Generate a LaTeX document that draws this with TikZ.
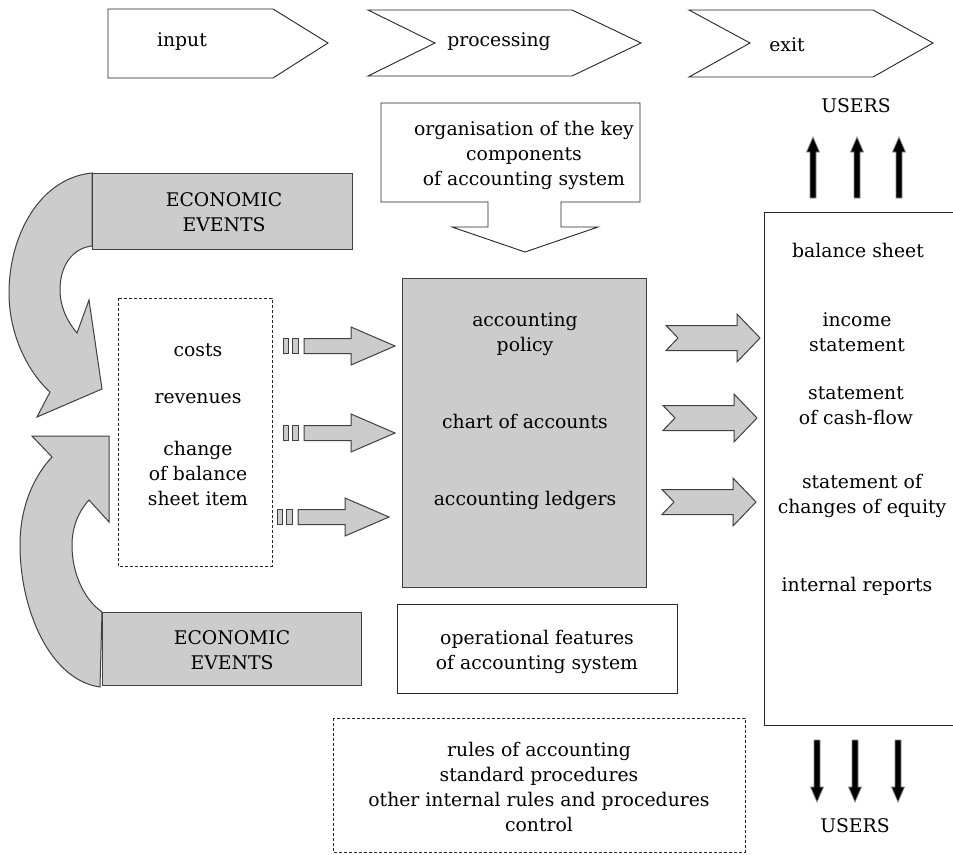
\documentclass[tikz,border=0pt]{standalone}
\usepackage{fontspec}
\setmainfont{DejaVu Serif}
\tikzset{
  ln/.style={draw=black!85, line width=0.9pt},
  graybox/.style={fill=black!20, draw=black!75, line width=1pt},
  txt/.style={align=center, font=\fontsize{18.8}{25}\selectfont, inner sep=0pt, text=black},
  uparrow/.pic={\filldraw[fill=black, draw=black!45, line width=0.7pt] (-3,0) -- (-3,-46) -- (-6.5,-46) -- (0,-61) -- (6.5,-46) -- (3,-46) -- (3,0) -- cycle;},
  downarrow/.pic={\filldraw[fill=black, draw=black!45, line width=0.7pt] (-3,0) -- (-3,47) -- (-6.5,47) -- (0,62) -- (6.5,47) -- (3,47) -- (3,0) -- cycle;},
  stripearr/.pic={
    \filldraw[graybox] (0,-7.5) rectangle (5,7.5);
    \filldraw[graybox] (9,-7.5) rectangle (15,7.5);
    \filldraw[graybox] (21,-7.5) -- (68,-7.5) -- (68,-19) -- (112,0) -- (68,19) -- (68,7.5) -- (21,7.5) -- cycle;},
  notcharr/.pic={
    \filldraw[graybox] (0,-12.5) -- (71,-12.5) -- (71,-24) -- (94,0) -- (71,24) -- (71,12.5) -- (0,12.5) -- (12,0) -- cycle;}
}
\begin{document}
\begin{tikzpicture}[x=1pt,y=-1pt]
\useasboundingbox (0,0) rectangle (953,854);
\fill[white] (0,0) rectangle (953,854);

% ---- top chevrons
\draw[ln] (108,9) -- (273,9) -- (328,43) -- (273,78) -- (108,78) -- cycle;
\node[txt] (input) at (182,42) {input};
\draw[ln] (368,10) -- (572,10) -- (641,43) -- (572,76) -- (368,76) -- (435,43) -- cycle;
\node[txt] (processing) at (499,42) {processing};
\draw[ln] (689,10) -- (873,10) -- (933,43) -- (873,77) -- (689,77) -- (750,43) -- cycle;
\node[txt] (exit) at (787,45) {exit};

% ---- users
\node[txt] (usersTop) at (856,106) {USERS};
\pic at (813,198) {uparrow};
\pic at (857,198) {uparrow};
\pic at (899,198) {uparrow};
\pic at (817,740) {downarrow};
\pic at (855,740) {downarrow};
\pic at (898,740) {downarrow};
\node[txt] (usersBot) at (855,826) {USERS};

% ---- organisation box with arrow
\draw[ln] (381,103) -- (640,103) -- (640,202) -- (561,202) -- (561,227) -- (598,227) -- (525,252) -- (452,227) -- (488,227) -- (488,202) -- (381,202) -- cycle;
\node[txt] (org) at (524,155) {organisation of the key\\components\\of accounting system};

% ---- curved arrows
\filldraw[graybox] (92,173) .. controls (40,178) and (9,235) .. (9,293)
  .. controls (9,335) and (28,372) .. (50,392) -- (37,417) -- (102,389) -- (89,300) -- (77,333)
  .. controls (66,320) and (60,305) .. (60,290) .. controls (60,265) and (73,248) .. (92,246) -- cycle;
\filldraw[graybox] (100,687) .. controls (50,680) and (20,610) .. (20,545)
  .. controls (20,505) and (35,475) .. (52,457) -- (32,436) -- (109,436) -- (109,522) -- (89,500)
  .. controls (78,512) and (72,528) .. (72,545) .. controls (72,575) and (85,600) .. (102,612) -- cycle;

% ---- economic events
\draw[graybox] (92,173) rectangle (352,249);
\node[txt] (ee1) at (224,212) {ECONOMIC\\EVENTS};
\draw[graybox] (102,612) rectangle (361,685);
\node[txt] (ee2) at (232,650) {ECONOMIC\\EVENTS};

% ---- dashed input box
\draw[ln, dashed, dash pattern=on 3pt off 2pt, line width=0.7pt] (118,298) rectangle (272,566);
\node[txt] (costs) at (198,350) {costs};
\node[txt] (revenues) at (198,399) {revenues};
\node[txt] (change) at (198,473) {change\\of balance\\sheet item};

% ---- striped arrows
\pic at (283,346) {stripearr};
\pic at (283,433) {stripearr};
\pic at (277,517) {stripearr};

% ---- central box
\draw[graybox] (402,278) rectangle (646,587);
\node[txt] (policy) at (525,334) {accounting\\policy};
\node[txt] (chart) at (525,421) {chart of accounts};
\node[txt] (ledgers) at (525,500) {accounting ledgers};

% ---- notched arrows
\pic at (666,338) {notcharr};
\pic at (663,418) {notcharr};
\pic at (662,502) {notcharr};

% ---- operational features
\draw[ln] (397,604) rectangle (677,693);
\node[txt] (oper) at (537,652) {operational features\\of accounting system};

% ---- right reports box
\draw[ln] (953,212) -- (764,212) -- (764,725) -- (953,725);
\node[txt] (bs) at (858,250) {balance sheet};
\node[txt] (is) at (857,332) {income\\statement};
\node[txt] (cf) at (856,406) {statement\\of cash-flow};
\node[txt] (eq) at (862,496) {statement of\\changes of equity};
\node[txt] (ir) at (857,586) {internal reports};

% ---- rules box
\draw[ln, dashed, dash pattern=on 3pt off 2pt, line width=0.7pt] (333,718) rectangle (745,852);
\node[txt] (rules) at (539,787) {rules of accounting\\standard procedures\\other internal rules and procedures\\control};
\end{tikzpicture}
\end{document}
